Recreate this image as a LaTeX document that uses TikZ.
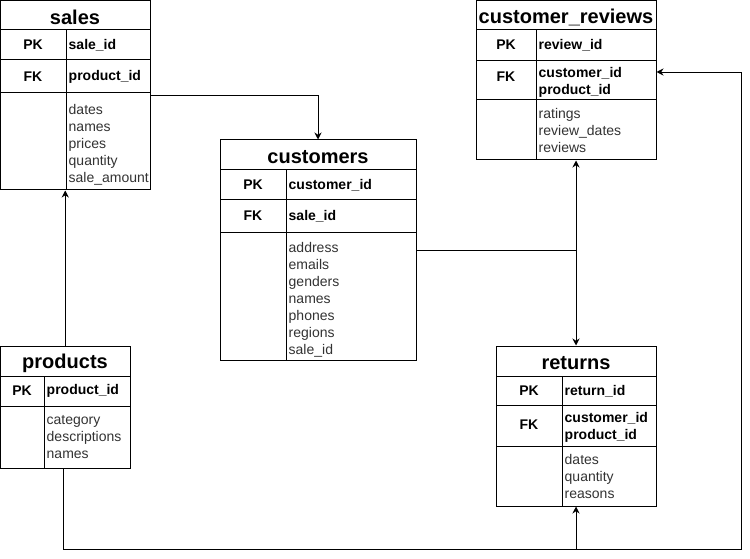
\documentclass[tikz,border=0pt]{standalone}
\usepackage{fontspec}
\setmainfont{Liberation Sans}
\usetikzlibrary{arrows.meta}
\tikzset{
  tbl/.style={draw=black, line width=1pt, inner sep=0pt, fill=white},
  tline/.style={draw=black, line width=1pt},
  ttl/.style={font=\bfseries\fontsize{20}{24}\selectfont, inner sep=0pt},
  keyt/.style={font=\bfseries\fontsize{14}{17}\selectfont, inner sep=0pt},
  fkey/.style={font=\bfseries\fontsize{14}{17}\selectfont, inner sep=0pt, anchor=west, align=left},
  flist/.style={font=\fontsize{14}{17}\selectfont, text=black!80, inner sep=0pt, anchor=north west, align=left},
  conn/.style={draw=black, line width=0.9pt, -{Stealth[length=7pt,width=7pt]}},
  plain/.style={draw=black, line width=0.9pt}
}
\begin{document}
\begin{tikzpicture}[x=1pt,y=-1pt]
\useasboundingbox (0,0) rectangle (750,559);

% ---------- sales ----------
\node[tbl, minimum width=149.5pt, minimum height=189.5pt] (sales) at (75.25,95.25) {};
\draw[tline] (0.5,30) -- (150,30);
\draw[tline] (0.5,60) -- (150,60);
\draw[tline] (0.5,93) -- (150,93);
\draw[tline] (66,30) -- (66,190);
\node[ttl] (salesT) at (75,17) {sales};
\node[keyt] (salesPK) at (33,45) {PK};
\node[keyt] (salesFK) at (33,77) {FK};
\node[fkey] (salesPKf) at (68.5,45) {sale\_id};
\node[fkey] (salesFKf) at (68.5,77) {product\_id};
\node[flist] (salesF) at (68.5,104) {dates\\names\\prices\\quantity\\sale\_amount};

% ---------- customers ----------
\node[tbl, minimum width=196pt, minimum height=220pt] (customers) at (318,250) {};
\draw[tline] (220,170) -- (416,170);
\draw[tline] (220,199) -- (416,199);
\draw[tline] (220,232) -- (416,232);
\draw[tline] (286,170) -- (286,360);
\node[ttl] (custT) at (318,157) {customers};
\node[keyt] (custPK) at (253,185) {PK};
\node[keyt] (custFK) at (253,216) {FK};
\node[fkey] (custPKf) at (288.5,185) {customer\_id};
\node[fkey] (custFKf) at (288.5,216) {sale\_id};
\node[flist] (custF) at (288.5,242.5) {address\\emails\\genders\\names\\phones\\regions\\sale\_id};

% ---------- customer_reviews ----------
\node[tbl, minimum width=180pt, minimum height=159pt] (reviews) at (566,80.5) {};
\draw[tline] (476,30) -- (656,30);
\draw[tline] (476,61) -- (656,61);
\draw[tline] (476,100) -- (656,100);
\draw[tline] (536,30) -- (536,160);
\node[ttl] (revT) at (566,17) {customer\_reviews};
\node[keyt] (revPK) at (506,45) {PK};
\node[keyt] (revFK) at (506,77) {FK};
\node[fkey] (revPKf) at (538.5,45) {review\_id};
\node[fkey] (revFKf) at (538.5,82) {customer\_id\\product\_id};
\node[flist] (revF) at (538.5,108.5) {ratings\\review\_dates\\reviews};

% ---------- returns ----------
\node[tbl, minimum width=160pt, minimum height=160pt] (returns) at (576,426) {};
\draw[tline] (496,376) -- (656,376);
\draw[tline] (496,405) -- (656,405);
\draw[tline] (496,446) -- (656,446);
\draw[tline] (562,376) -- (562,506);
\node[ttl] (retT) at (576,363) {returns};
\node[keyt] (retPK) at (529,391) {PK};
\node[keyt] (retFK) at (529,425) {FK};
\node[fkey] (retPKf) at (564.5,391) {return\_id};
\node[fkey] (retFKf) at (564.5,427) {customer\_id\\product\_id};
\node[flist] (retF) at (564.5,454.5) {dates\\quantity\\reasons};

% ---------- products ----------
\node[tbl, minimum width=129.5pt, minimum height=122pt] (products) at (65.25,407) {};
\draw[tline] (0.5,376) -- (130,376);
\draw[tline] (0.5,406) -- (130,406);
\draw[tline] (44,376) -- (44,468);
\node[ttl] (prodT) at (65,363) {products};
\node[keyt] (prodPK) at (22,391) {PK};
\node[fkey] (prodPKf) at (46.5,391) {product\_id};
\node[flist] (prodF) at (46.5,415.5) {category\\descriptions\\names};

% ---------- connectors ----------
\coordinate (br) at (741,549);
\draw[conn] (sales.east) -| (customers.north);
\draw[conn] (customers.east) -| ([xshift=10pt]reviews.south);
\draw[conn] (customers.east) -| (returns.north);
\draw[conn] (products.north) -- (products.north |- sales.south);
\draw[conn] ([xshift=-2pt]products.south) |- (br) |- ([yshift=8.5pt]reviews.east);
\draw[conn] (returns.south |- br) -- (returns.south);
\end{tikzpicture}
\end{document}
